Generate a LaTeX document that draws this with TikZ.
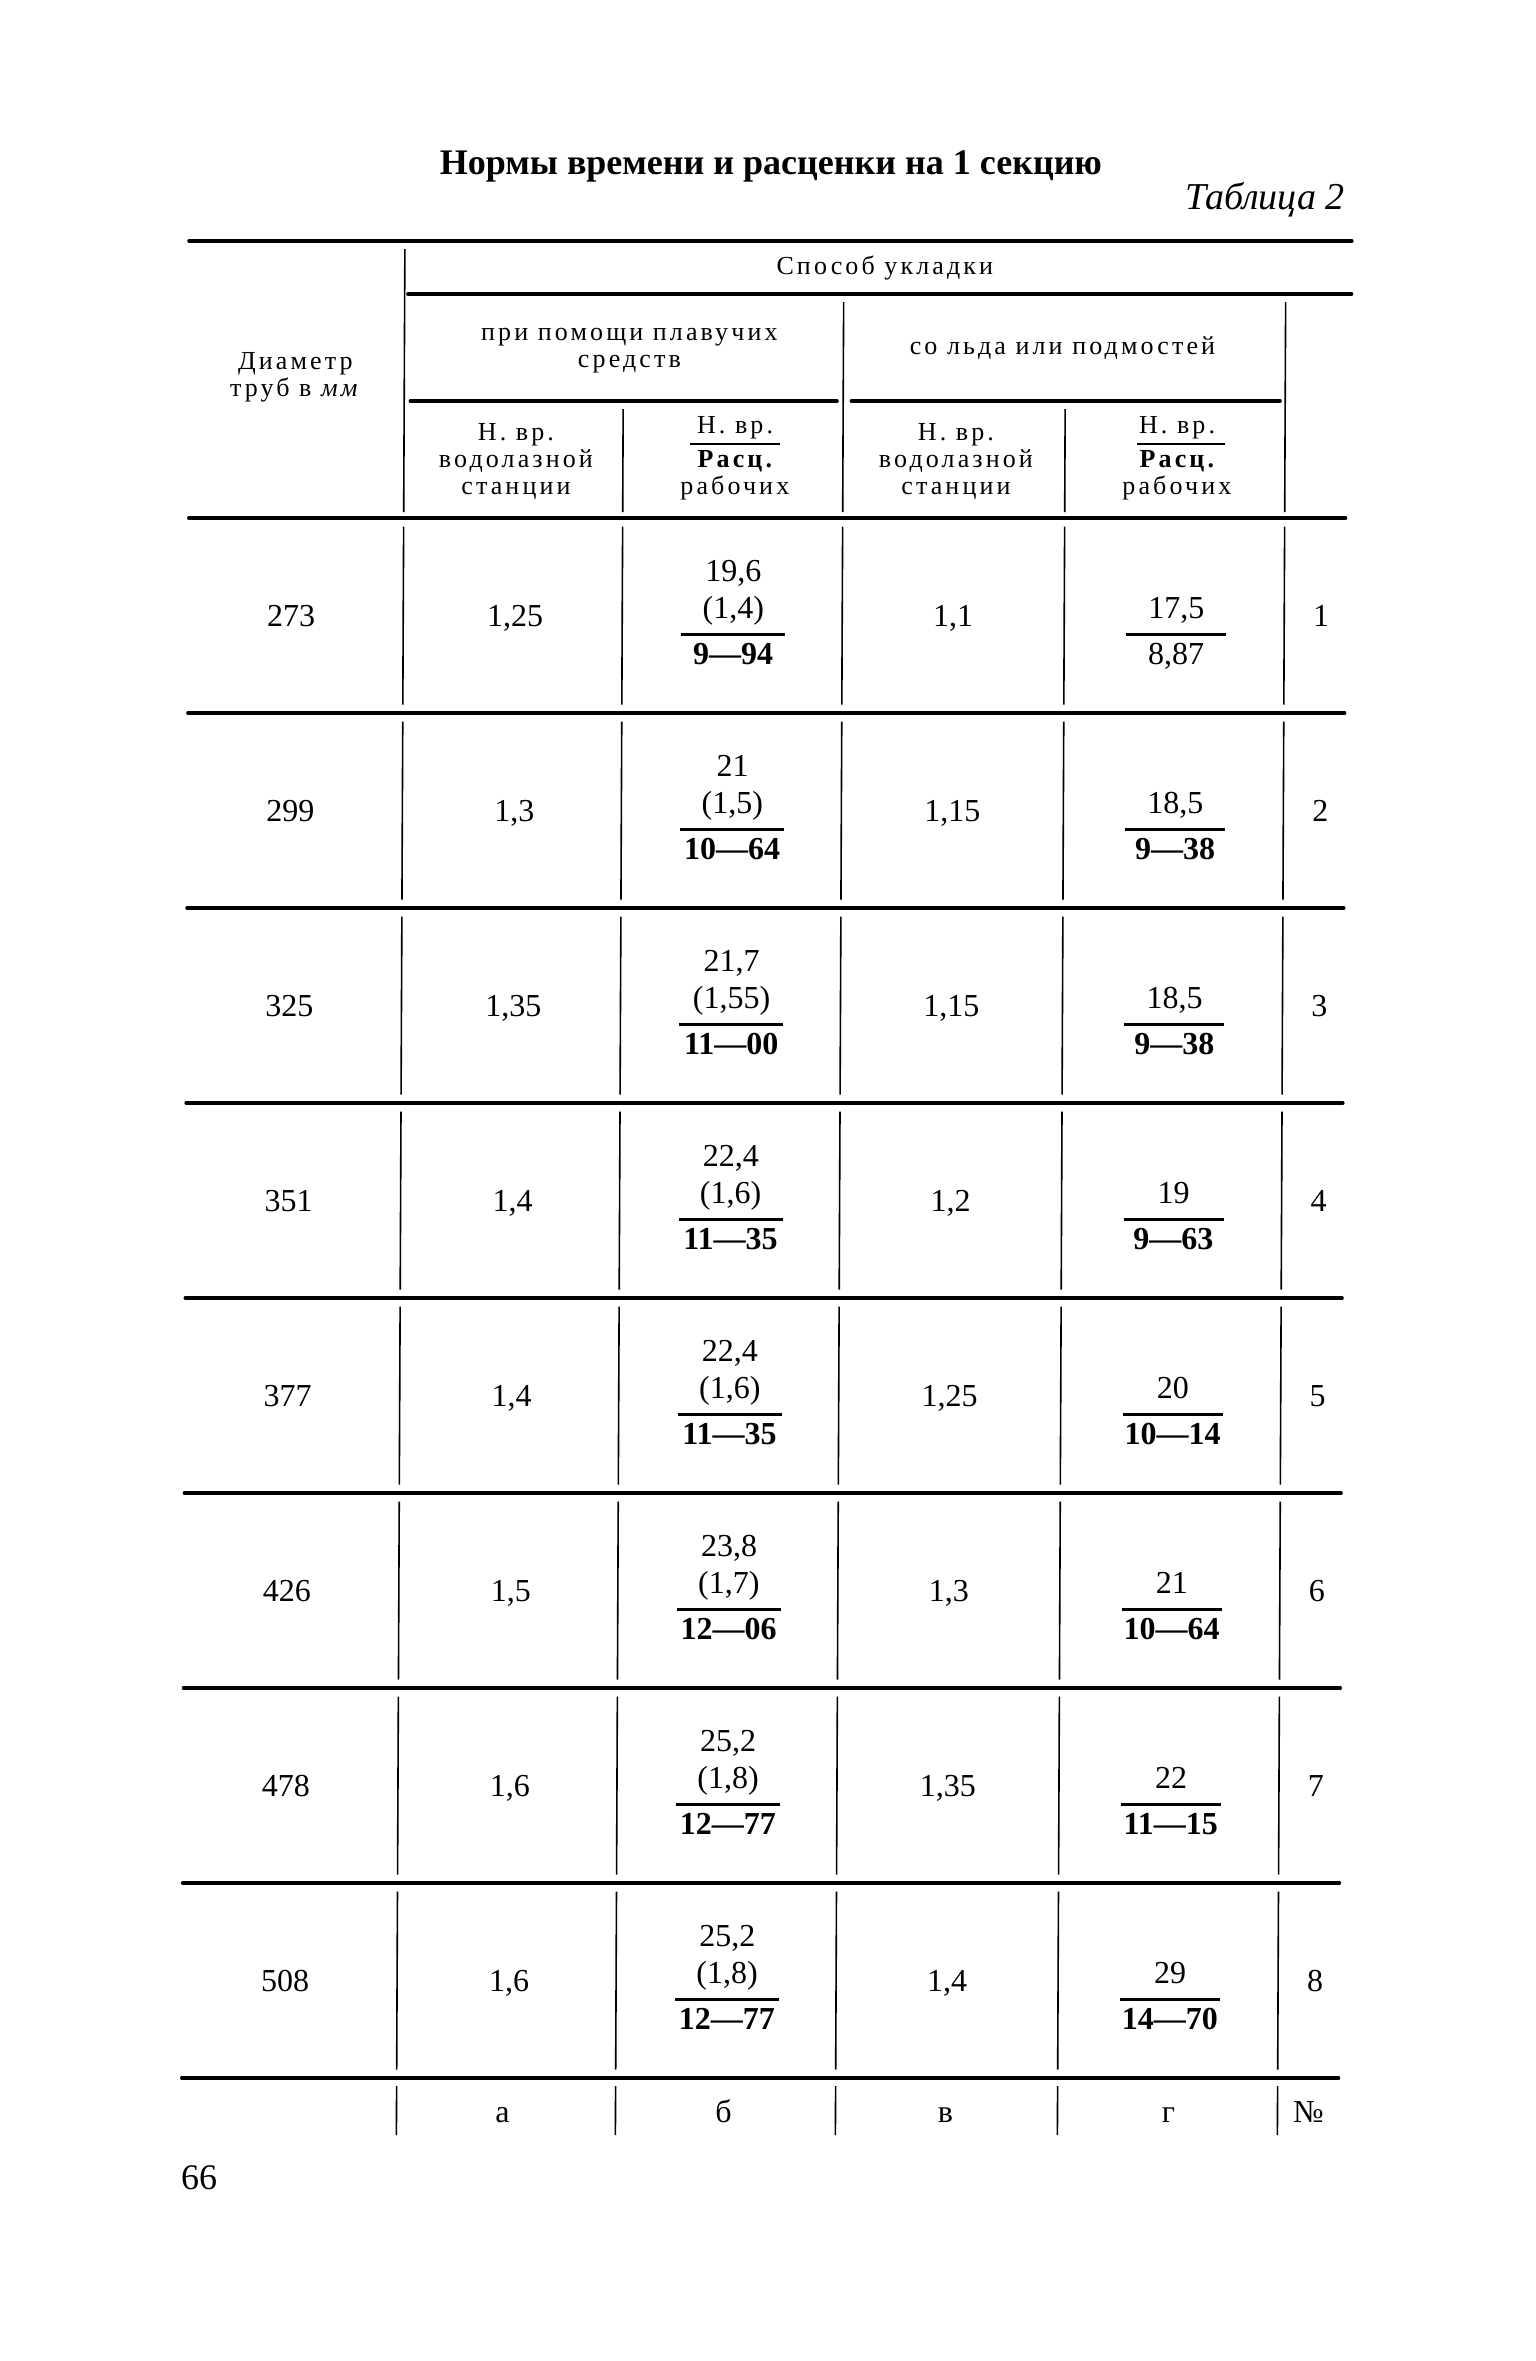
\documentclass[tikz,border=0pt]{standalone}
\usepackage{fontspec}
\setmainfont{Liberation Serif}
\newfontfamily\hdrfont[LetterSpace=12]{Liberation Serif}
\newcommand\tabrow[9]{%
  \pgfmathsetmacro\cy{420.5+195*#1}%
  \node[num] (d#1) at (294,\cy) {#2};
  \node[num] (a#1) at (518,\cy) {#3};
  \node[num] (bt#1) at (736,\cy-45) {#4};
  \node[num] (bm#1) at (736,\cy-8) {#5};
  \node[num] (bb#1) at (736,\cy+38) {\bfseries #6};
  \draw[fracrule] (684,\cy+19) -- (788,\cy+19);
  \node[num] (v#1) at (956,\cy) {#7};
  \node[num] (gt#1) at (1179,\cy-8) {#8};
  \draw[fracrule] (1129,\cy+19) -- (1229,\cy+19);
  \node[num] (gb#1) at (1179,\cy+38) {#9};
  \node[num] (n#1) at (1324,\cy) {#1};
  \foreach \xx in {406,625,845,1067,1287}{\draw[vrule] (\xx,\cy-89) -- (\xx,\cy+89);}
  \draw[hrule] (191,\cy+97.5) -- (1348,\cy+97.5);
}
\begin{document}
\begin{tikzpicture}[x=0.5pt,y=-0.5pt,
  hrule/.style={line width=1.6pt,line cap=round},
  vrule/.style={line width=0.8pt},
  fracrule/.style={line width=1.1pt},
  num/.style={font=\fontsize{16}{18}\selectfont, inner sep=0pt, text height=10.6pt, text depth=0pt, anchor=center},
  hdr/.style={font=\hdrfont\fontsize{13}{13.5}\selectfont, align=center, inner sep=0pt},
]
\useasboundingbox (0,0) rectangle (1536,2361);
\fill[white] (0,0) rectangle (1536,2361);

\node[font=\bfseries\fontsize{18}{20}\selectfont] (title) at (771,166) {Нормы времени и расценки на 1 секцию};
\node[font=\itshape\fontsize{19}{21}\selectfont, anchor=east] (tabno) at (1352,200) {Таблица 2};

\begin{scope}[xslant=0.0045]
% header rules
\draw[hrule] (190,241) -- (1353,241);
\draw[hrule] (409,294) -- (1353,294);
\draw[hrule] (412,401) -- (839,401);
\draw[hrule] (853,401) -- (1282,401);
\draw[hrule] (191,518) -- (1348,518);
% header verticals
\draw[vrule] (406,249) -- (406,512);
\draw[vrule] (845,302) -- (845,512);
\draw[vrule] (1287,302) -- (1287,512);
\draw[vrule] (625,409) -- (625,512);
\draw[vrule] (1067,409) -- (1067,512);
% header texts
\node[hdr] (diam) at (297,377) {Диаметр\\труб в \textit{мм}};
\node[hdr] (spos) at (886,268) {Способ укладки};
\node[hdr] (plav) at (631,351) {при помощи плавучих\\средств};
\node[hdr] (led) at (1064,348) {со льда или подмостей};
\node[hdr] (ha) at (518,461) {Н. вр.\\водолазной\\станции};
\node[hdr] (hbt) at (737,428) {Н. вр.};
\draw[fracrule] (692,444) -- (782,444);
\node[hdr] (hbb) at (737,475) {\bfseries Расц.\\рабочих};
\node[hdr] (hv) at (958,461) {Н. вр.\\водолазной\\станции};
\node[hdr] (hgt) at (1179,428) {Н. вр.};
\draw[fracrule] (1139,444) -- (1227,444);
\node[hdr] (hgb) at (1179,475) {\bfseries Расц.\\рабочих};
% rows
\tabrow{1}{273}{1,25}{19,6}{(1,4)}{9---94}{1,1}{17,5}{8,87}
\tabrow{2}{299}{1,3}{21}{(1,5)}{10---64}{1,15}{18,5}{\bfseries 9---38}
\tabrow{3}{325}{1,35}{21,7}{(1,55)}{11---00}{1,15}{18,5}{\bfseries 9---38}
\tabrow{4}{351}{1,4}{22,4}{(1,6)}{11---35}{1,2}{19}{\bfseries 9---63}
\tabrow{5}{377}{1,4}{22,4}{(1,6)}{11---35}{1,25}{20}{\bfseries 10---14}
\tabrow{6}{426}{1,5}{23,8}{(1,7)}{12---06}{1,3}{21}{\bfseries 10---64}
\tabrow{7}{478}{1,6}{25,2}{(1,8)}{12---77}{1,35}{22}{\bfseries 11---15}
\tabrow{8}{508}{1,6}{25,2}{(1,8)}{12---77}{1,4}{29}{\bfseries 14---70}
% footer
\foreach \xx in {406,625,845,1067,1287}{\draw[vrule] (\xx,2086) -- (\xx,2135);}
\node[num] (fa) at (512,2112) {а};
\node[num] (fb) at (733,2112) {б};
\node[num] (fv) at (955,2112) {в};
\node[num] (fg) at (1178,2112) {г};
\node[num] (fn) at (1318,2112) {№};
\end{scope}

\node[font=\fontsize{18}{20}\selectfont] (page) at (199,2178) {66};
\end{tikzpicture}
\end{document}
